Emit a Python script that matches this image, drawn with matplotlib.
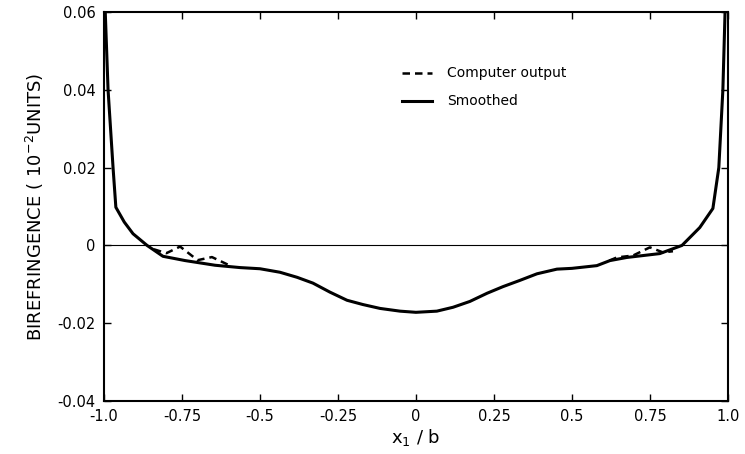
"""Birefringence along x1/b: computer output vs smoothed curve."""

import matplotlib

matplotlib.use("Agg", force=True)
import matplotlib.pyplot as plt

# smoothed curve
smooth_x = [-0.996, -0.987, -0.971, -0.962, -0.935, -0.907, -0.862, -0.811, -0.74, -0.644,
            -0.564, -0.5, -0.436, -0.381, -0.33, -0.276, -0.221, -0.170, -0.115, -0.051,
            0.0, 0.067, 0.119, 0.173, 0.228, 0.279, 0.333, 0.388, 0.452, 0.5,
            0.58, 0.622, 0.676, 0.782, 0.853, 0.91, 0.952, 0.971, 0.984, 0.991]
smooth_y = [0.06, 0.04, 0.02, 0.0098, 0.0060, 0.0030, 0.0, -0.0028, -0.0039, -0.0051,
            -0.0057, -0.0060, -0.0069, -0.0082, -0.0097, -0.0120, -0.0141, -0.0152, -0.0162, -0.0169,
            -0.0172, -0.0169, -0.0159, -0.0144, -0.0123, -0.0106, -0.0090, -0.0073, -0.0061, -0.0059,
            -0.0052, -0.0039, -0.0031, -0.0021, 0.0, 0.0046, 0.0095, 0.02, 0.04, 0.06]

# computer output where it departs from the smoothed curve
comp_left_x = [-0.84, -0.80, -0.756, -0.70, -0.654, -0.596]
comp_left_y = [-0.0010, -0.0020, -0.0003, -0.0038, -0.0030, -0.0052]
comp_right_x = [0.62, 0.644, 0.696, 0.75, 0.792, 0.824]
comp_right_y = [-0.0039, -0.0031, -0.0026, -0.0005, -0.0018, -0.0015]

x_ticks = [-1.0, -0.75, -0.5, -0.25, 0, 0.25, 0.5, 0.75, 1.0]
x_labels = ["-1.0", "-0.75", "-0.5", "-0.25", "0", "0.25", "0.5", "0.75", "1.0"]
y_ticks = [-0.04, -0.02, 0, 0.02, 0.04, 0.06]
y_labels = ["-0.04", "-0.02", "0", "0.02", "0.04", "0.06"]

plt.rcParams["font.family"] = ["DejaVu Sans"]

fig = plt.figure(figsize=(7.45, 4.54), dpi=100)
ax = fig.add_axes([0.1396, 0.1167, 0.8374, 0.8569])

ax.axhline(0, color="black", lw=0.8)
ax.plot(smooth_x, smooth_y, color="black", lw=2.2, solid_joinstyle="round")
ax.plot(comp_left_x, comp_left_y, color="black", lw=1.8, ls=(0, (3, 2)))
ax.plot(comp_right_x, comp_right_y, color="black", lw=1.8, ls=(0, (3, 2)))

ax.set_xlim(-1.0, 1.0)
ax.set_ylim(-0.04, 0.06)
ax.set_xticks(x_ticks, x_labels)
ax.set_yticks(y_ticks, y_labels)
ax.tick_params(direction="in", length=5, width=1, top=True, right=True,
               labelsize=10.5, pad=6)
for s in ax.spines.values():
    s.set_linewidth(1.5)

ax.set_xlabel(r"x$_{\mathrm{1}}$ / b", fontsize=13, labelpad=2)
ax.set_ylabel(r"BIREFRINGENCE ( 10$^{-2}$UNITS)", fontsize=13, labelpad=8)

# legend drawn by hand to match the layout
ax.plot([-0.045, 0.05], [0.0443, 0.0443], color="black", lw=1.8, ls=(0, (3, 2)))
ax.plot([-0.045, 0.05], [0.0371, 0.0371], color="black", lw=2.2)
ax.text(0.1, 0.0443, "Computer output", fontsize=10, va="center")
ax.text(0.1, 0.0371, "Smoothed", fontsize=10, va="center")

fig.savefig("out.png", dpi=100)
plt.close(fig)
